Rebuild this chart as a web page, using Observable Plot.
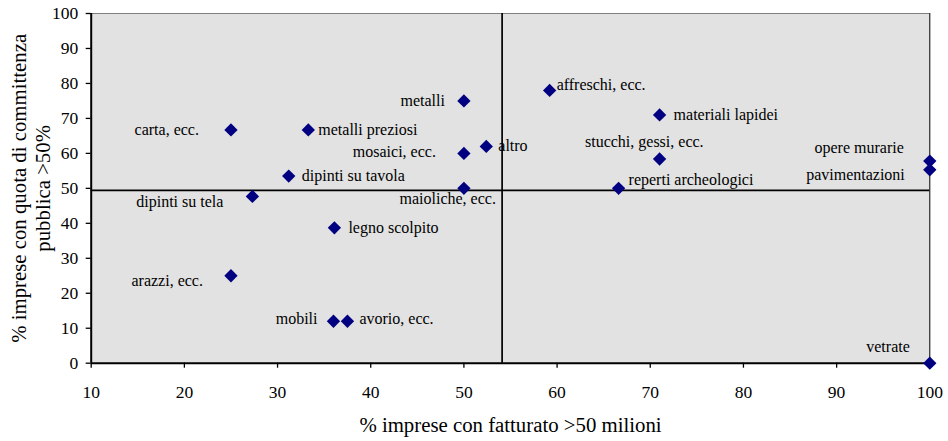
<!DOCTYPE html>
<html><head><meta charset="utf-8">
<script src="https://cdn.jsdelivr.net/npm/d3@7"></script>
<script src="https://cdn.jsdelivr.net/npm/@observablehq/plot@0.6"></script>
<style>
body{margin:0;background:#fff;}
#chart svg{display:block;}
#chart svg, #chart svg text{font-family:"Liberation Serif","Times New Roman","DejaVu Serif",serif !important;}
</style>
</head><body><div id="chart"></div>
<script>
// Data
const sectors = ["carta, ecc.", "metalli preziosi", "dipinti su tavola", "dipinti su tela", "legno scolpito",
  "arazzi, ecc.", "mobili", "avorio, ecc.", "metalli", "mosaici, ecc.", "maioliche, ecc.", "altro",
  "affreschi, ecc.", "materiali lapidei", "stucchi, gessi, ecc.", "reperti archeologici",
  "opere murarie", "pavimentazioni", "vetrate"];
const fatturato = [25, 33.3, 31.2, 27.3, 36.1, 25, 36, 37.5, 50, 50, 50, 52.4, 59.2, 71, 71, 66.6, 100, 100, 100];
const committenza = [66.7, 66.7, 53.5, 47.7, 38.7, 25, 12, 12, 75, 60, 50, 62, 78, 71, 58.4, 50, 57.8, 55.3, 0];
const refX = 54.1;   // vertical reference line
const refY = 49.4;   // horizontal reference line
const xTicks = [10, 20, 30, 40, 50, 60, 70, 80, 90, 100];
const yTicks = [0, 10, 20, 30, 40, 50, 60, 70, 80, 90, 100];
const xTitle = "% imprese con fatturato >50 milioni";
const yTitle = "% imprese con quota di committenza\npubblica >50%";

// Label placement (style only)
const labelStyle = {
  "carta, ecc.": ["end", -32, 0],
  "metalli preziosi": ["start", 10, 0],
  "dipinti su tavola": ["start", 13, 0],
  "dipinti su tela": ["end", -29, 5],
  "legno scolpito": ["start", 14, 0],
  "arazzi, ecc.": ["end", -28, 5],
  "mobili": ["end", -16, -2],
  "avorio, ecc.": ["start", 12, -2],
  "metalli": ["end", -19, 0],
  "mosaici, ecc.": ["end", -28, -2],
  "maioliche, ecc.": ["end", 32, 11],
  "altro": ["start", 12, -1],
  "affreschi, ecc.": ["start", 7, -6],
  "materiali lapidei": ["start", 14, 0],
  "stucchi, gessi, ecc.": ["end", 44, -17],
  "reperti archeologici": ["start", 10, -8],
  "opere murarie": ["end", -26, -13],
  "pavimentazioni": ["end", -25, 5],
  "vetrate": ["end", -20, -16]
};

const data = sectors.map((s, i) => ({name: s, x: fatturato[i], y: committenza[i]}));
const font = "Liberation Serif";

const labelMarks = data.map(d => {
  const [anchor, dx, dy] = labelStyle[d.name];
  return Plot.text([d], {x: "x", y: "y", text: "name", textAnchor: anchor, dx, dy,
    lineAnchor: "middle", fontSize: 16, fontFamily: font, fill: "#000"});
});

const chart = Plot.plot({
  width: 948, height: 441,
  marginLeft: 90.7, marginRight: 18.7, marginTop: 13, marginBottom: 78.3,
  style: {fontFamily: font, background: "#fff", color: "#000"},
  x: {domain: [10, 100], ticks: xTicks},
  y: {domain: [0, 100], ticks: yTicks},
  marks: [
    Plot.frame({fill: "#e2e2e2", stroke: null}),
    Plot.ruleY([100], {stroke: "#808080", strokeWidth: 1.2}),
    Plot.ruleX([100], {stroke: "#000", strokeWidth: 1}),
    Plot.ruleX([refX], {stroke: "#000", strokeWidth: 1.7}),
    Plot.ruleY([refY], {stroke: "#000", strokeWidth: 1.7}),
    Plot.axisX({ticks: xTicks, tickSize: 5, tickPadding: 17, fontSize: 17.5, fontFamily: font, label: null, stroke: "#000", strokeWidth: 1.3}),
    Plot.axisY({ticks: yTicks, tickSize: 5, tickPadding: 8, fontSize: 17.5, fontFamily: font, label: null, stroke: "#000", strokeWidth: 1.3}),
    Plot.ruleX([10], {stroke: "#000", strokeWidth: 2}),
    Plot.ruleY([0], {stroke: "#000", strokeWidth: 2}),
    Plot.text([xTitle], {frameAnchor: "bottom", dy: 62, lineAnchor: "middle", textAnchor: "middle", fontSize: 20.8, fontFamily: font, fill: "#000"}),
    Plot.text([yTitle], {frameAnchor: "left", dx: -61, rotate: -90, textAnchor: "middle", lineAnchor: "middle", lineHeight: 1.15, fontSize: 20.8, fontFamily: font, fill: "#000"}),
    Plot.dot(data, {x: "x", y: "y", symbol: "diamond2", r: 6, fill: "#000080", stroke: null}),
    ...labelMarks
  ]
});
document.getElementById("chart").appendChild(chart);
</script>
</body></html>
